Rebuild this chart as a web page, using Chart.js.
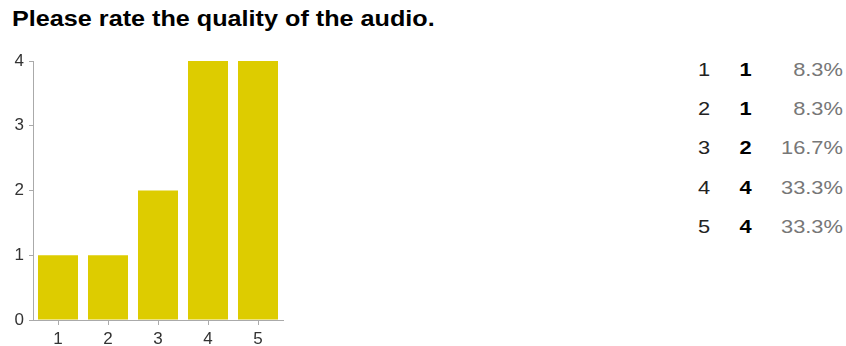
<!DOCTYPE html>
<html>
<head>
<meta charset="utf-8">
<script src="https://cdn.jsdelivr.net/npm/chart.js@4/dist/chart.umd.min.js"></script>
<style>
  body { margin: 0; background: #fff; font-family: "Liberation Sans", Arial, sans-serif; }
  #title { position: absolute; left: 12px; top: 6px; font-size: 22px; font-weight: bold; color: #000;
           transform: scaleX(1.145); transform-origin: left top; white-space: nowrap; }
  #chartBox { position: absolute; left: 0; top: 40px; width: 300px; height: 306px; }
  #summary { position: absolute; left: 690px; top: 50px; border-collapse: collapse; font-size: 19px;
             transform: scaleX(1.15); transform-origin: left top; }
  #summary td { height: 39.3px; padding: 0; }
  #summary td.v { width: 36px; padding-left: 7px; color: #222; }
  #summary td.c { width: 35px; font-weight: bold; color: #000; }
  #summary td.p { width: 55px; text-align: right; color: #777; }
</style>
</head>
<body>
<div id="title">Please rate the quality of the audio.</div>
<div id="chartBox"><canvas id="chart"></canvas></div>
<table id="summary"></table>
<script>
// Audio quality ratings
const ratings = ['1', '2', '3', '4', '5'];
const counts = [1, 1, 2, 4, 4];
const percents = ['8.3%', '8.3%', '16.7%', '33.3%', '33.3%'];
const yTicks = [0, 1, 2, 3, 4];

const table = document.getElementById('summary');
table.innerHTML = ratings.map((r, i) => `
    <tr><td class="v">${r}</td><td class="c">${counts[i]}</td><td class="p">${percents[i]}</td></tr>
`).join('');

const axisColor = '#aaa';
const ctx = document.getElementById('chart').getContext('2d');
new Chart(ctx, {
    type: 'bar',
    data: {
        labels: ratings,
        datasets: [{
            data: counts,
            backgroundColor: '#ddcc00',
            barPercentage: 0.8,
            categoryPercentage: 1.0
        }]
    },
    options: {
        responsive: true,
        maintainAspectRatio: false,
        animation: false,
        layout: { padding: { top: 21, right: 17, left: 0, bottom: 0 } },
        plugins: { legend: { display: false }, tooltip: { enabled: false } },
        scales: {
            x: {
                afterFit: axis => { axis.height = 26; },
                grid: { offset: false, drawOnChartArea: false, drawTicks: true, tickLength: 5, color: axisColor },
                border: { color: axisColor },
                ticks: { color: '#333', font: { family: 'Liberation Sans', size: 17 }, padding: 4 }
            },
            y: {
                min: 0,
                max: 4,
                afterBuildTicks: axis => { axis.ticks = yTicks.map(v => ({ value: v })); },
                afterFit: axis => { axis.width = 33; },
                grid: { drawOnChartArea: false, drawTicks: true, tickLength: 4, color: axisColor },
                border: { color: axisColor },
                ticks: { color: '#333', font: { family: 'Liberation Sans', size: 17 }, padding: 5 }
            }
        }
    }
});
</script>
</body>
</html>
